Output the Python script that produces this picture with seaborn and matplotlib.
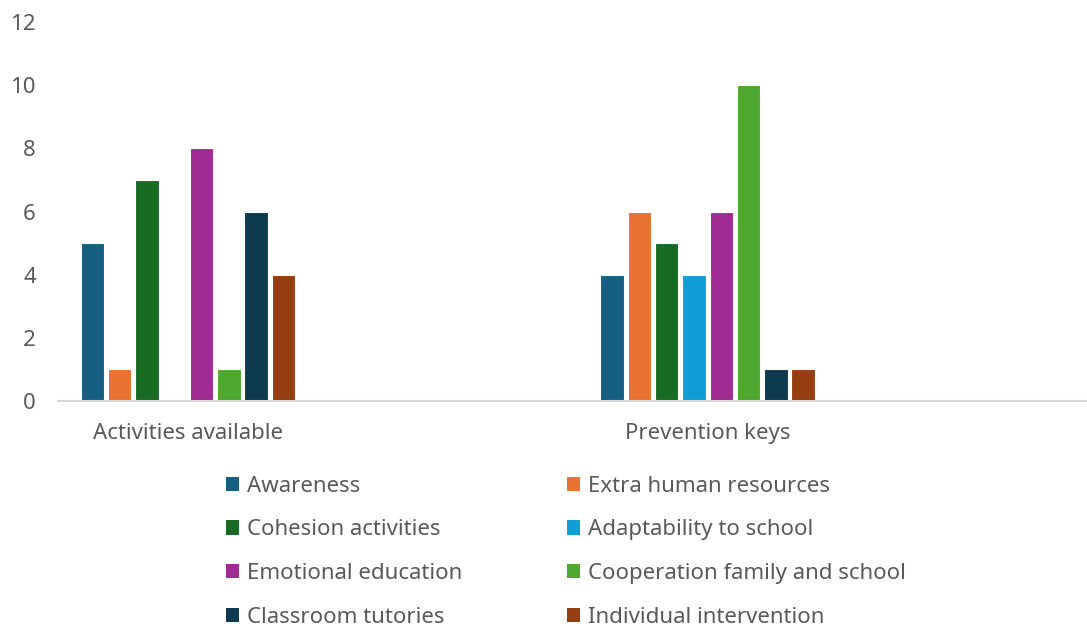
import matplotlib
matplotlib.use("Agg")
import matplotlib.pyplot as plt
from matplotlib.patches import Patch
import seaborn as sns
import pandas as pd

categories = ["Activities available", "Prevention keys"]
series = [
    "Awareness",
    "Extra human resources",
    "Cohesion activities",
    "Adaptability to school",
    "Emotional education",
    "Cooperation family and school",
    "Classroom tutories",
    "Individual intervention",
]
activities_available = [5, 1, 7, 0, 8, 1, 6, 4]
prevention_keys = [4, 6, 5, 4, 6, 10, 1, 1]
colors = ["#156082", "#E97132", "#196B24", "#0F9ED5",
          "#A02B93", "#4EA72E", "#0E3A50", "#963E12"]
y_ticks = [0, 2, 4, 6, 8, 10, 12]

rows = []
for cat, vals in zip(categories, [activities_available, prevention_keys]):
    for s, v in zip(series, vals):
        rows.append({"category": cat, "series": s, "value": v})
df = pd.DataFrame(rows)

sns.set_theme(style="white")
plt.rcParams["font.family"] = ["Noto Sans", "DejaVu Sans"]
text_color = "#595959"
fs = 16

fig = plt.figure(figsize=(10.87, 6.30), dpi=100)
ax = fig.add_axes([0.0534, 0.3635, 0.9466, 0.6015])

sns.barplot(data=df, x="category", y="value", hue="series",
            hue_order=series, order=categories, palette=colors,
            saturation=1, width=0.42, gap=0.14, edgecolor="white",
            linewidth=0.8, legend=False, ax=ax)

ax.set_xlim(-0.25, 1.73)
ax.set_ylim(0, 12)
ax.set_yticks(y_ticks)
ax.set_xlabel("")
ax.set_ylabel("")
ax.tick_params(axis="y", length=0, pad=16, labelsize=fs, labelcolor=text_color)
ax.tick_params(axis="x", length=0, pad=16, labelsize=fs, labelcolor=text_color)
for side in ["left", "right", "top"]:
    ax.spines[side].set_visible(False)
ax.spines["bottom"].set_color("#D9D9D9")
ax.spines["bottom"].set_linewidth(1.5)
ax.grid(False)

# Legend laid out row-wise: two entries per row
order = [0, 2, 4, 6, 1, 3, 5, 7]
handles = [Patch(facecolor=colors[i], edgecolor="none") for i in order]
labels = [series[i] for i in order]
fig.legend(handles, labels, ncol=2, loc="upper left",
           bbox_to_anchor=(0.208, 0.245), frameon=False,
           fontsize=fs, labelcolor=text_color,
           handlelength=0.6, handleheight=0.6, handletextpad=0.35,
           labelspacing=1.02, columnspacing=4.7, borderpad=0, borderaxespad=0)

fig.savefig("out.png", dpi=100)
